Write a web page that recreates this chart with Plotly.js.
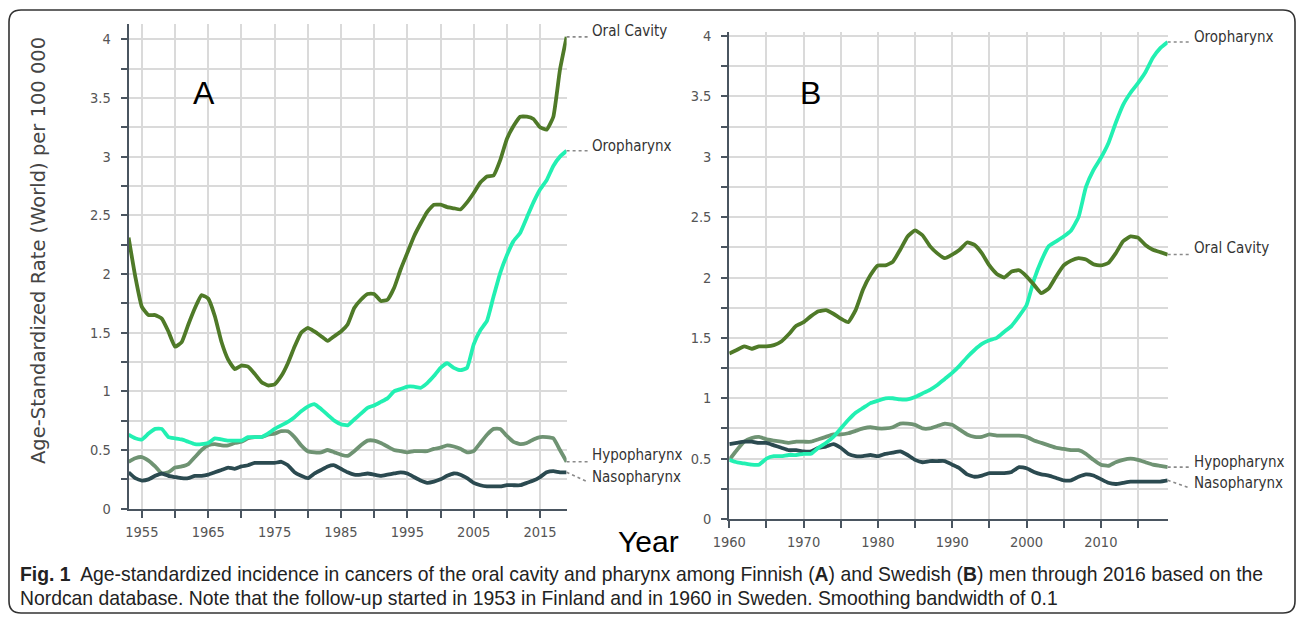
<!DOCTYPE html>
<html>
<head>
<meta charset="utf-8">
<script src="https://cdn.plot.ly/plotly-3.0.1.min.js"></script>
<style>html,body{margin:0;padding:0;background:#fff;}#chart{width:1298px;height:619px;}</style>
</head>
<body>
<div id="chart"></div>
<script>
// ---------- DATA ----------
const yearsA = [1953,1954,1955,1956,1957,1958,1959,1960,1961,1962,1963,1964,1965,1966,1967,1968,1969,
  1970,1971,1972,1973,1974,1975,1976,1977,1978,1979,1980,1981,1982,1983,1984,1985,1986,1987,1988,1989,
  1990,1991,1992,1993,1994,1995,1996,1997,1998,1999,2000,2001,2002,2003,2004,2005,2006,2007,2008,2009,
  2010,2011,2012,2013,2014,2015,2016,2017,2018,2019];
const oralA = [2.31,1.98,1.72,1.65,1.65,1.62,1.51,1.38,1.42,1.57,1.71,1.82,1.79,1.64,1.42,1.27,1.19,
  1.22,1.21,1.15,1.08,1.05,1.06,1.13,1.24,1.38,1.50,1.54,1.51,1.47,1.43,1.47,1.51,1.57,1.71,1.78,1.83,
  1.83,1.77,1.78,1.88,2.04,2.18,2.32,2.43,2.53,2.59,2.59,2.57,2.56,2.55,2.61,2.69,2.78,2.83,2.84,2.97,
  3.15,3.26,3.34,3.34,3.32,3.25,3.23,3.34,3.74,4.02];
const oroA = [0.63,0.60,0.59,0.64,0.68,0.68,0.61,0.60,0.59,0.57,0.55,0.55,0.56,0.60,0.59,0.58,0.58,
  0.58,0.61,0.61,0.61,0.64,0.68,0.71,0.74,0.78,0.83,0.87,0.89,0.85,0.80,0.75,0.72,0.71,0.76,0.81,0.86,
  0.88,0.91,0.94,1.00,1.02,1.04,1.04,1.03,1.07,1.13,1.20,1.24,1.20,1.18,1.20,1.40,1.52,1.60,1.81,2.01,
  2.16,2.28,2.35,2.48,2.61,2.72,2.80,2.92,3.00,3.05];
const hypoA = [0.40,0.43,0.44,0.41,0.36,0.30,0.31,0.35,0.36,0.38,0.44,0.50,0.54,0.55,0.54,0.54,0.56,
  0.57,0.60,0.61,0.61,0.63,0.64,0.66,0.66,0.61,0.54,0.49,0.48,0.48,0.50,0.48,0.46,0.45,0.49,0.54,0.58,
  0.58,0.56,0.53,0.50,0.49,0.48,0.49,0.49,0.49,0.51,0.52,0.54,0.53,0.51,0.48,0.49,0.56,0.63,0.68,0.68,
  0.62,0.57,0.55,0.56,0.59,0.61,0.61,0.60,0.50,0.40];
const nasoA = [0.31,0.26,0.24,0.25,0.28,0.30,0.28,0.27,0.26,0.26,0.28,0.28,0.29,0.31,0.33,0.35,0.34,
  0.36,0.37,0.39,0.39,0.39,0.39,0.40,0.37,0.31,0.28,0.26,0.30,0.33,0.36,0.37,0.34,0.31,0.29,0.29,0.30,
  0.29,0.28,0.29,0.30,0.31,0.30,0.27,0.24,0.22,0.23,0.25,0.28,0.30,0.29,0.26,0.22,0.20,0.19,0.19,0.19,
  0.20,0.20,0.20,0.22,0.24,0.27,0.31,0.32,0.31,0.31];

const yearsB = [1960,1961,1962,1963,1964,1965,1966,1967,1968,1969,
  1970,1971,1972,1973,1974,1975,1976,1977,1978,1979,1980,1981,1982,1983,1984,1985,1986,1987,1988,1989,
  1990,1991,1992,1993,1994,1995,1996,1997,1998,1999,2000,2001,2002,2003,2004,2005,2006,2007,2008,2009,
  2010,2011,2012,2013,2014,2015,2016,2017,2018,2019];
const oralB = [1.37,1.40,1.43,1.41,1.43,1.43,1.44,1.47,1.53,1.60,
  1.63,1.68,1.72,1.73,1.70,1.66,1.63,1.73,1.90,2.02,2.10,2.10,2.13,2.23,2.34,2.39,2.35,2.26,2.20,2.16,
  2.19,2.23,2.29,2.27,2.20,2.10,2.03,2.00,2.05,2.06,2.01,1.94,1.87,1.91,2.01,2.10,2.14,2.16,2.15,2.11,
  2.10,2.12,2.20,2.30,2.34,2.33,2.27,2.23,2.21,2.19];
const oroB = [0.49,0.47,0.46,0.45,0.45,0.50,0.52,0.52,0.53,0.53,
  0.54,0.54,0.59,0.63,0.68,0.75,0.82,0.88,0.92,0.96,0.98,1.00,1.00,0.99,0.99,1.01,1.04,1.07,1.11,1.16,
  1.21,1.27,1.34,1.40,1.45,1.48,1.50,1.55,1.60,1.68,1.77,1.98,2.14,2.26,2.30,2.34,2.39,2.50,2.75,2.89,
  2.99,3.11,3.28,3.43,3.53,3.61,3.70,3.82,3.90,3.95];
const hypoB = [0.49,0.57,0.64,0.67,0.68,0.66,0.65,0.64,0.63,0.64,
  0.64,0.64,0.66,0.68,0.70,0.70,0.71,0.73,0.75,0.76,0.75,0.75,0.76,0.79,0.79,0.78,0.75,0.75,0.77,0.79,
  0.78,0.74,0.70,0.68,0.68,0.70,0.69,0.69,0.69,0.69,0.68,0.65,0.63,0.61,0.59,0.58,0.57,0.57,0.54,0.49,
  0.45,0.44,0.47,0.49,0.50,0.49,0.47,0.45,0.44,0.43];
const nasoB = [0.62,0.63,0.64,0.64,0.63,0.63,0.61,0.59,0.57,0.57,
  0.56,0.56,0.59,0.60,0.62,0.59,0.54,0.52,0.52,0.53,0.52,0.54,0.55,0.56,0.53,0.49,0.47,0.48,0.48,0.48,
  0.45,0.42,0.37,0.35,0.36,0.38,0.38,0.38,0.39,0.43,0.42,0.39,0.37,0.36,0.34,0.32,0.32,0.35,0.37,0.36,
  0.33,0.30,0.29,0.30,0.31,0.31,0.31,0.31,0.31,0.32];

const seriesNames = ["Oral Cavity","Oropharynx","Hypopharynx","Nasopharynx"];
const captionLine1 = "<b>Fig. 1</b>  Age-standardized incidence in cancers of the oral cavity and pharynx among Finnish (<b>A</b>) and Swedish (<b>B</b>) men through 2016 based on the";
const captionLine2 = "Nordcan database. Note that the follow-up started in 1953 in Finland and in 1960 in Sweden. Smoothing bandwidth of 0.1";
const yTitle = "Age-Standardized Rate (World) per 100 000";

// ---------- STYLE ----------
const W = 1298, H = 619;
const P = x => x / W;          // pixel -> paper x
const Q = y => 1 - y / H;      // pixel -> paper y
const colors = {"Oral Cavity":"#4f7a28","Oropharynx":"#22f0b2","Hypopharynx":"#6f9373","Nasopharynx":"#2b4a50"};
const axisCol = "#4a5560", gridCol = "#dadada";
const narrow = "DejaVu Sans Condensed, Liberation Sans, sans-serif";

const domA = {x:[P(128.6), P(566.6)], y:[Q(508.7), Q(24)], xr:[1953,2019], yr:[0,4.13]};
const domB = {x:[P(729.3), P(1167.7)], y:[Q(519), Q(32.4)], xr:[1960,2019], yr:[0,4.03]};

function mkTrace(x, y, name, xa, ya){
  return {x:x, y:y, name:name, xaxis:xa, yaxis:ya, type:"scatter", mode:"lines",
    line:{color:colors[name], width:3.8, shape:"spline", smoothing:0.4}, hoverinfo:"x+y+name"};
}
const traces = [
  mkTrace(yearsA, hypoA, "Hypopharynx","x","y"),
  mkTrace(yearsA, nasoA, "Nasopharynx","x","y"),
  mkTrace(yearsA, oroA, "Oropharynx","x","y"),
  mkTrace(yearsA, oralA, "Oral Cavity","x","y"),
  mkTrace(yearsB, hypoB, "Hypopharynx","x2","y2"),
  mkTrace(yearsB, nasoB, "Nasopharynx","x2","y2"),
  mkTrace(yearsB, oroB, "Oropharynx","x2","y2"),
  mkTrace(yearsB, oralB, "Oral Cavity","x2","y2")
];

function xAxis(dom, tick0, anchor){
  return {domain:dom.x, range:dom.xr, anchor:anchor, tickmode:"linear", tick0:tick0, dtick:10,
    ticks:"outside", ticklen:7, tickwidth:1.5, tickcolor:axisCol,
    showline:true, linecolor:axisCol, linewidth:2, showgrid:true, gridcolor:gridCol, gridwidth:1.5,
    zeroline:false, tickfont:{family:narrow, size:14.5, color:"#555"}, ticklabelstandoff:2,
    minor:{tick0:tick0, dtick:5, ticks:"outside", ticklen:7, tickwidth:1.5, tickcolor:axisCol, showgrid:true, gridcolor:gridCol, gridwidth:1.5},
    fixedrange:true};
}
function yAxis(dom, anchor){
  return {domain:dom.y, range:dom.yr, anchor:anchor, tickmode:"linear", tick0:0, dtick:0.5,
    ticks:"outside", ticklen:6, tickwidth:1.5, tickcolor:axisCol,
    showline:true, linecolor:axisCol, linewidth:2, showgrid:true, gridcolor:gridCol, gridwidth:1.5,
    zeroline:false, tickfont:{family:narrow, size:14.5, color:"#555"}, ticklabelstandoff:7,
    minor:{tick0:0, dtick:0.25, ticks:"outside", ticklen:6, tickwidth:1.5, tickcolor:axisCol, showgrid:true, gridcolor:gridCol, gridwidth:1.5},
    fixedrange:true};
}

// map data value to paper via the same axis range/domain (used only for leader lines)
function px(dom, xv){ return dom.x[0] + (xv - dom.xr[0])/(dom.xr[1]-dom.xr[0])*(dom.x[1]-dom.x[0]); }
function py(dom, yv){ return dom.y[0] + (yv - dom.yr[0])/(dom.yr[1]-dom.yr[0])*(dom.y[1]-dom.y[0]); }

const shapes = [];
const annotations = [];
function leader(dom, xEnd, yEnd, labelX, labelYpx, text, targetYpx){
  const x0 = px(dom, xEnd), y0 = py(dom, yEnd);
  const y1 = (targetYpx === undefined) ? y0 : Q(targetYpx);
  shapes.push({type:"line", xref:"paper", yref:"paper", x0:x0, y0:y0, x1:P(labelX-2), y1:y1,
    line:{color:"#8a8a8a", width:1.6, dash:"dot"}});
  annotations.push({xref:"paper", yref:"paper", x:P(labelX), y:Q(labelYpx), xanchor:"left", yanchor:"middle",
    text:text, showarrow:false, font:{family:narrow, size:15, color:"#333"}});
}
const nA = yearsA.length - 1, nB = yearsB.length - 1;
leader(domA, yearsA[nA], oralA[nA], 590, 31, "Oral Cavity");
leader(domA, yearsA[nA], oroA[nA], 590, 146, "Oropharynx");
leader(domA, yearsA[nA], hypoA[nA], 590, 455, "Hypopharynx");
leader(domA, yearsA[nA], nasoA[nA], 590, 477, "Nasopharynx", 482);
leader(domB, yearsB[nB], oroB[nB], 1192, 37, "Oropharynx");
leader(domB, yearsB[nB], oralB[nB], 1192, 248, "Oral Cavity");
leader(domB, yearsB[nB], hypoB[nB], 1192, 462, "Hypopharynx");
leader(domB, yearsB[nB], nasoB[nB], 1192, 483, "Nasopharynx", 488);

function centered(xp, yp, text, font, extra){
  const a = {xref:"paper", yref:"paper", x:P(xp), y:Q(yp), xanchor:"center", yanchor:"middle",
    text:text, showarrow:false, font:font};
  return Object.assign(a, extra || {});
}
annotations.push(centered(204, 93, "A", {family:"Liberation Sans, Arial, sans-serif", size:32, color:"#000"}));
annotations.push(centered(810, 93, "B", {family:"Liberation Sans, Arial, sans-serif", size:32, color:"#000"}));
annotations.push(centered(38, 251, yTitle, {family:"DejaVu Sans, Verdana, sans-serif", size:19.5, color:"#444"}, {textangle:-90}));
annotations.push(centered(648, 541, "Year", {family:"Liberation Sans, Arial, sans-serif", size:30, color:"#000"}));
annotations.push({xref:"paper", yref:"paper", x:P(18), y:Q(574), xanchor:"left", yanchor:"middle", text:captionLine1, showarrow:false,
  font:{family:"Liberation Sans, Arial, sans-serif", size:19.35, color:"#222"}});
annotations.push({xref:"paper", yref:"paper", x:P(18), y:Q(598), xanchor:"left", yanchor:"middle", text:captionLine2, showarrow:false,
  font:{family:"Liberation Sans, Arial, sans-serif", size:19.35, color:"#222"}});

// rounded frame
(function(){
  const x0=9, y0=10, x1=1295, y1=613, r=12;
  const f = (x,y) => P(x).toFixed(5)+","+Q(y).toFixed(5);
  const path = "M"+f(x0+r,y0)+" L"+f(x1-r,y0)+" Q"+f(x1,y0)+" "+f(x1,y0+r)+
    " L"+f(x1,y1-r)+" Q"+f(x1,y1)+" "+f(x1-r,y1)+" L"+f(x0+r,y1)+" Q"+f(x0,y1)+" "+f(x0,y1-r)+
    " L"+f(x0,y0+r)+" Q"+f(x0,y0)+" "+f(x0+r,y0)+" Z";
  shapes.push({type:"path", xref:"paper", yref:"paper", path:path, line:{color:"#333", width:1.6}, layer:"below"});
})();

const layout = {
  width:W, height:H, margin:{l:0,r:0,t:0,b:0}, paper_bgcolor:"#fff", plot_bgcolor:"#fff",
  showlegend:false, hovermode:"closest",
  xaxis:xAxis(domA, 1955, "y"), yaxis:yAxis(domA, "x"),
  xaxis2:xAxis(domB, 1960, "y2"), yaxis2:yAxis(domB, "x2"),
  shapes:shapes, annotations:annotations
};
Plotly.newPlot("chart", traces, layout, {displayModeBar:false});
</script>
</body>
</html>
